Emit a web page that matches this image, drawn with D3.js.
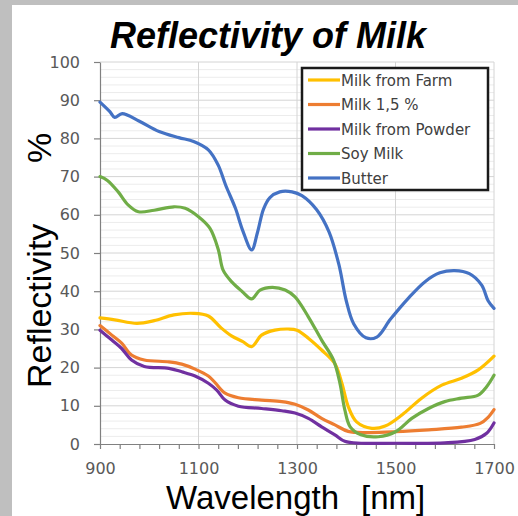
<!DOCTYPE html>
<html><head><meta charset="utf-8">
<script src="https://cdn.jsdelivr.net/npm/d3@7"></script>
<style>html,body{margin:0;padding:0;background:#bfbfbf;}svg{display:block;}</style>
</head><body>
<svg id="chart" width="518" height="516"></svg>
<script>
const seriesNames = ["Milk from Farm", "Milk 1,5 %", "Milk from Powder", "Soy Milk", "Butter"];
const seriesColors = ["#FFC000", "#ED7D31", "#7030A0", "#70AD47", "#4472C4"];
const milkFarm = [[900,33.0],[930,32.5],[975,31.6],[1010,32.3],[1050,33.8],[1090,34.2],[1120,33.5],[1145,30.5],[1167,28.3],[1190,26.8],[1208,25.5],[1228,28.5],[1255,29.8],[1282,30.1],[1300,29.8],[1323,27.7],[1350,24.6],[1377,21.0],[1391,16.0],[1404,9.8],[1421,5.8],[1452,4.1],[1479,4.7],[1513,7.6],[1553,12.0],[1594,15.4],[1634,17.2],[1668,19.4],[1700,23.0]];
const milk15 = [[900,31.0],[924,28.5],[944,26.4],[964,23.3],[990,22.0],[1040,21.5],[1066,20.9],[1093,19.6],[1120,17.8],[1134,16.0],[1154,13.3],[1181,12.1],[1228,11.5],[1269,11.1],[1296,10.4],[1323,8.9],[1350,6.7],[1377,5.0],[1404,3.3],[1445,3.0],[1500,3.2],[1567,3.7],[1634,4.4],[1672,5.4],[1688,7.0],[1700,9.0]];
const milkPowder = [[900,29.8],[924,27.2],[944,25.0],[964,22.0],[990,20.3],[1040,19.8],[1066,18.9],[1093,17.8],[1120,15.9],[1137,14.1],[1154,11.5],[1181,9.9],[1228,9.3],[1269,8.7],[1296,8.1],[1323,6.7],[1350,4.5],[1377,2.4],[1397,0.7],[1430,0.2],[1500,0.2],[1600,0.3],[1661,1.2],[1685,2.8],[1700,5.5]];
const soyMilk = [[900,70.0],[915,69.0],[937,66.0],[957,62.6],[978,60.8],[1010,61.2],[1050,62.1],[1073,61.7],[1100,59.5],[1123,56.5],[1140,51.0],[1150,45.5],[1167,42.5],[1188,40.0],[1208,38.0],[1225,40.3],[1250,41.0],[1276,40.3],[1296,38.5],[1323,33.3],[1350,27.2],[1374,22.0],[1387,16.0],[1397,9.0],[1408,4.5],[1430,2.4],[1465,1.9],[1500,3.2],[1533,6.7],[1567,9.3],[1600,11.1],[1634,12.0],[1668,12.8],[1685,15.0],[1700,18.0]];
const butter = [[900,89.5],[920,87.0],[930,85.5],[945,86.5],[980,84.5],[1020,81.8],[1060,80.2],[1090,79.2],[1120,77.0],[1140,73.0],[1155,67.8],[1175,61.7],[1190,55.8],[1208,50.8],[1220,55.5],[1232,61.5],[1245,64.5],[1265,66.0],[1290,66.0],[1310,65.0],[1340,61.3],[1365,55.5],[1385,47.0],[1400,37.5],[1415,31.5],[1440,27.8],[1462,28.0],[1490,32.7],[1525,38.0],[1560,42.5],[1590,44.8],[1620,45.4],[1650,44.6],[1675,41.6],[1688,37.5],[1700,35.5]];
const seriesData = [milkFarm, milk15, milkPowder, soyMilk, butter];
const xTickLabels = [900, 1100, 1300, 1500, 1700];
const yTickValues = [0,10,20,30,40,50,60,70,80,90,100];

const svg = d3.select("#chart");
svg.append("rect").attr("x",12).attr("y",5).attr("width",506).attr("height",511).attr("fill","#ffffff");

const x = d3.scaleLinear().domain([900,1700]).range([100,494]);
const y = d3.scaleLinear().domain([0,100]).range([444,62]);

// gridlines
const g = svg.append("g");
g.selectAll("line.minor").data(d3.range(2,100,2).filter(v=>v%10!==0)).join("line")
  .attr("x1",x(900)).attr("x2",x(1700)).attr("y1",d=>y(d)).attr("y2",d=>y(d))
  .attr("stroke","#ececec").attr("stroke-width",1);
g.selectAll("line.major").data(yTickValues.slice(1)).join("line")
  .attr("x1",x(900)).attr("x2",x(1700)).attr("y1",d=>y(d)).attr("y2",d=>y(d))
  .attr("stroke","#d4d4d4").attr("stroke-width",1);
g.selectAll("line.vmajor").data(xTickLabels.slice(1)).join("line")
  .attr("x1",d=>x(d)).attr("x2",d=>x(d)).attr("y1",y(0)).attr("y2",y(100))
  .attr("stroke","#d4d4d4").attr("stroke-width",1);

// axes
const xAxis = d3.axisBottom(x).tickValues(d3.range(900,1701,40))
  .tickFormat(d => xTickLabels.includes(d) ? d : "").tickSizeInner(5).tickSizeOuter(0).tickPadding(14);
const gx = svg.append("g").attr("transform",`translate(0,${y(0)})`).call(xAxis);
const yAxis = d3.axisLeft(y).tickValues(yTickValues).tickSizeInner(6).tickSizeOuter(0).tickPadding(14);
const gy = svg.append("g").attr("transform",`translate(${x(900)},0)`).call(yAxis);
[gx,gy].forEach(a=>{
  a.select(".domain").attr("stroke","#808080").attr("stroke-width",1.2);
  a.selectAll(".tick line").attr("stroke","#808080").attr("stroke-width",1.2);
  a.selectAll(".tick text").attr("fill","#595959").style("font-family","DejaVu Sans").style("font-size","16px");
});

// lines
const line = d3.line().x(d=>x(d[0])).y(d=>y(d[1])).curve(d3.curveCatmullRom.alpha(0.5));
svg.append("g").selectAll("path").data(seriesData).join("path")
  .attr("d",line).attr("fill","none")
  .attr("stroke",(d,i)=>seriesColors[i]).attr("stroke-width",3.2)
  .attr("stroke-linejoin","round").attr("stroke-linecap","round");

// legend
const lg = svg.append("g");
lg.append("rect").attr("x",302).attr("y",68).attr("width",186).attr("height",122)
  .attr("fill","#ffffff").attr("stroke","#1a1a1a").attr("stroke-width",2.5);
const items = lg.selectAll("g.item").data(seriesNames).join("g")
  .attr("transform",(d,i)=>`translate(0,${80 + i*24.5})`);
items.append("line").attr("x1",308).attr("x2",340).attr("y1",0).attr("y2",0)
  .attr("stroke",(d,i)=>seriesColors[i]).attr("stroke-width",3.2);
items.append("text").attr("x",341).attr("y",5.5).text(d=>d)
  .attr("fill","#404040").style("font-family","DejaVu Sans").style("font-size","15px");

// title
svg.append("text").attr("x",268).attr("y",48).attr("text-anchor","middle")
  .style("font-family","Liberation Sans").style("font-weight","bold").style("font-style","italic")
  .style("font-size","36px").attr("fill","#000").text("Reflectivity of Milk");

// y label
const yl = svg.append("g").attr("transform","translate(51,388) rotate(-90)");
yl.append("text").attr("x",0).attr("y",0)
  .style("font-family","Liberation Sans").style("font-size","34px").attr("fill","#000")
  .call(t=>{ t.append("tspan").text("Reflectivity"); t.append("tspan").attr("x",225).text("%"); });

// x label
svg.append("text").attr("y",508.5)
  .style("font-family","Liberation Sans").style("font-size","33px").attr("fill","#000")
  .call(t=>{ t.append("tspan").attr("x",166).text("Wavelength"); t.append("tspan").attr("x",361).text("[nm]"); });
</script>
</body></html>
